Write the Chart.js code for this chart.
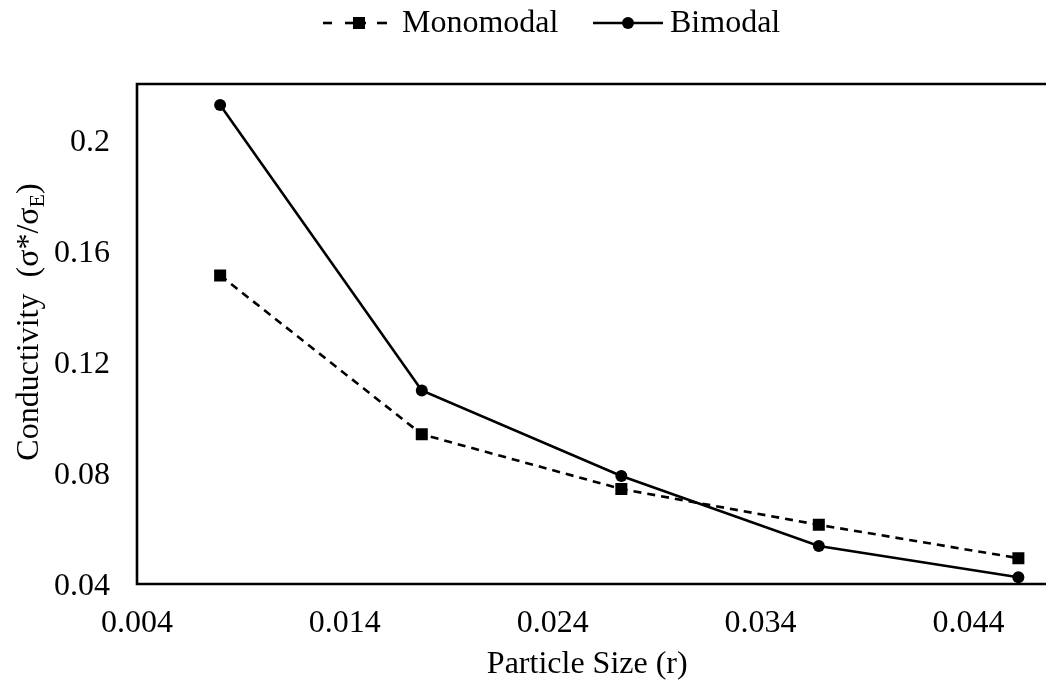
<!DOCTYPE html>
<html><head><meta charset="utf-8">
<script src="https://cdn.jsdelivr.net/npm/chart.js@4"></script>
<style>html,body{margin:0;padding:0;background:#fff}#wrap{width:1046px;height:686px;position:relative}</style>
</head><body><div id="wrap"><canvas id="c"></canvas></div>
<script>
const particleSize = [0.0080, 0.0177, 0.0273, 0.0368, 0.0464];
const monomodal = [0.1511, 0.0939, 0.0742, 0.0613, 0.0493];
const bimodal = [0.2124, 0.1097, 0.0789, 0.0537, 0.0424];
const xTicks = [0.004, 0.014, 0.024, 0.034, 0.044];
const xTickLabels = ['0.004', '0.014', '0.024', '0.034', '0.044'];
const yTicks = [0.04, 0.08, 0.12, 0.16, 0.2];
const yTickLabels = ['0.04', '0.08', '0.12', '0.16', '0.2'];
const seriesNames = ['Monomodal', 'Bimodal'];
const xTitle = 'Particle Size (r)';
const yTitleParts = ['Conductivity  (σ*/σ', 'E', ')'];

const FONT = 'Liberation Serif';
const FS = 32;
const pts = ys => particleSize.map((x, i) => ({x: x, y: ys[i]}));
const lbl = (arr, labels) => v => {
  const i = arr.findIndex(t => Math.abs(t - v) < 1e-9);
  return i >= 0 ? labels[i] : '';
};

const decor = {
  id: 'decor',
  afterDraw(chart) {
    const ctx = chart.ctx, a = chart.chartArea, W = chart.width;
    ctx.save();
    // frame: left, top, bottom (right side runs off the picture)
    ctx.strokeStyle = '#000'; ctx.lineWidth = 2.6;
    ctx.beginPath();
    ctx.moveTo(W, a.top); ctx.lineTo(a.left, a.top); ctx.lineTo(a.left, a.bottom); ctx.lineTo(W, a.bottom);
    ctx.stroke();

    // y title with subscript
    ctx.translate(30, 322);
    ctx.rotate(-Math.PI / 2);
    ctx.fillStyle = '#000';
    const big = FS + 'px "' + FONT + '"', small = '22px "' + FONT + '"';
    ctx.font = big; const w0 = ctx.measureText(yTitleParts[0]).width;
    ctx.font = small; const w1 = ctx.measureText(yTitleParts[1]).width;
    ctx.font = big; const w2 = ctx.measureText(yTitleParts[2]).width;
    let x = -(w0 + w1 + w2) / 2;
    ctx.textBaseline = 'middle';
    ctx.font = big; ctx.fillText(yTitleParts[0], x, 0); x += w0;
    ctx.font = small; ctx.fillText(yTitleParts[1], x, 8); x += w1;
    ctx.font = big; ctx.fillText(yTitleParts[2], x, 0);
    ctx.restore();

    // legend
    ctx.save();
    const ly = 23;
    ctx.strokeStyle = '#000'; ctx.fillStyle = '#000'; ctx.lineWidth = 2.6;
    [[323, 332], [345, 366], [377, 387]].forEach(s => {
      ctx.beginPath(); ctx.moveTo(s[0], ly); ctx.lineTo(s[1], ly); ctx.stroke();
    });
    ctx.fillRect(353, ly - 6, 12, 12);
    ctx.font = FS + 'px "' + FONT + '"';
    ctx.textBaseline = 'middle';
    ctx.fillText(seriesNames[0], 402, ly + 1);
    ctx.beginPath(); ctx.moveTo(593, ly); ctx.lineTo(663, ly); ctx.stroke();
    ctx.beginPath(); ctx.arc(628, ly, 6, 0, Math.PI * 2); ctx.fill();
    ctx.fillText(seriesNames[1], 670, ly + 1);
    ctx.restore();
  }
};

new Chart(document.getElementById('c'), {
  type: 'scatter',
  data: {
    datasets: [
      {
        label: seriesNames[0], data: pts(monomodal), showLine: true,
        borderColor: '#000', backgroundColor: '#000', borderWidth: 2.6,
        borderDash: [8, 6], pointStyle: 'rect', pointRadius: 8.5, pointHoverRadius: 8.5,
        pointBorderWidth: 0, tension: 0
      },
      {
        label: seriesNames[1], data: pts(bimodal), showLine: true,
        borderColor: '#000', backgroundColor: '#000', borderWidth: 2.6,
        pointStyle: 'circle', pointRadius: 6, pointHoverRadius: 6,
        pointBorderWidth: 0, tension: 0
      }
    ]
  },
  options: {
    responsive: true, maintainAspectRatio: false, animation: false,
    layout: {padding: {top: 84, right: 0, left: 0, bottom: 0}},
    plugins: {legend: {display: false}, tooltip: {enabled: false}, title: {display: false}},
    scales: {
      x: {
        type: 'linear', min: 0.004, max: 0.04732,
        afterBuildTicks: s => { s.ticks = xTicks.map(v => ({value: v})); },
        afterFit: s => { s.height = 102; },
        ticks: {callback: lbl(xTicks, xTickLabels), font: {family: FONT, size: FS}, color: '#000',
                padding: 20, maxRotation: 0, autoSkip: false},
        grid: {display: false, drawTicks: false},
        border: {display: false},
        title: {display: true, text: xTitle, font: {family: FONT, size: FS}, color: '#000',
                padding: {top: 0, bottom: 2}}
      },
      y: {
        type: 'linear', min: 0.04, max: 0.22,
        afterBuildTicks: s => { s.ticks = yTicks.map(v => ({value: v})); },
        afterFit: s => { s.width = 137; },
        ticks: {callback: lbl(yTicks, yTickLabels), font: {family: FONT, size: FS}, color: '#000',
                padding: 27, labelOffset: 3, autoSkip: false},
        grid: {display: false, drawTicks: false},
        border: {display: false}
      }
    }
  },
  plugins: [decor]
});
</script></body></html>
